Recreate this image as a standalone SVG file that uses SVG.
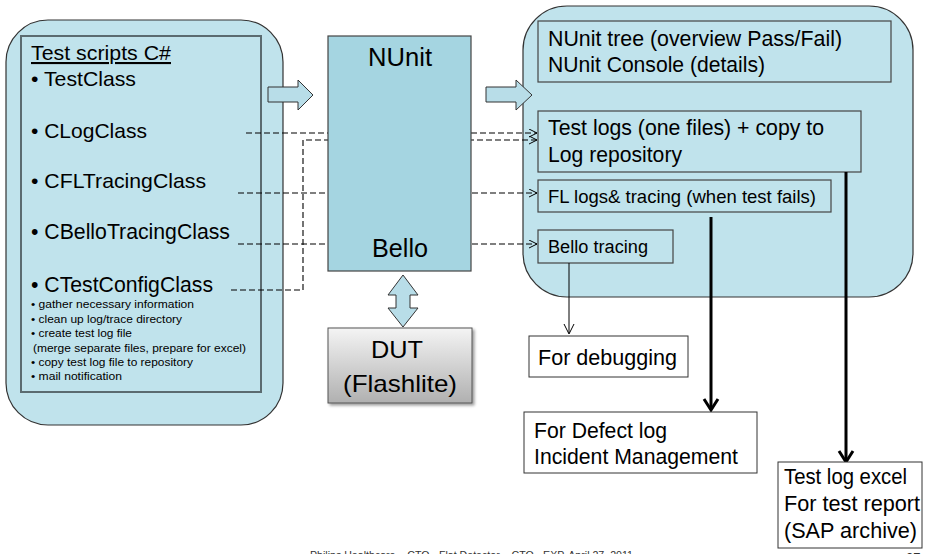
<svg xmlns="http://www.w3.org/2000/svg" width="929" height="554" viewBox="0 0 929 554">
<style>
text{font-family:"Liberation Sans",Arial,sans-serif;fill:#000}
.panel{fill:#c0e3ec;stroke:#333;stroke-width:1.2}
.inner{fill:none;stroke:#5b6b70;stroke-width:2}
.box{fill:#c0e3ec;stroke:#444;stroke-width:1.2}
.wbox{fill:#fff;stroke:#333;stroke-width:1}
.barrow{fill:#b8dde8;stroke:#333;stroke-width:1}
.dash{fill:none;stroke:#000;stroke-width:1.1;stroke-dasharray:6,3}
.thin{fill:none;stroke:#000;stroke-width:1}
.thick{fill:none;stroke:#000;stroke-width:3}
.big{font-size:21px}
.sm{font-size:11.5px}
.r21{font-size:22px}
</style>
<defs>
<marker id="oa" markerUnits="userSpaceOnUse" markerWidth="10" markerHeight="10" refX="8" refY="4" orient="auto">
<path d="M0,0 L8,4 L0,8" fill="none" stroke="#000" stroke-width="1"/>
</marker>
<linearGradient id="dutg" x1="0" y1="0" x2="0" y2="1">
<stop offset="0" stop-color="#f4f4f4"/>
<stop offset="1" stop-color="#b0b0b0"/>
</linearGradient>
<filter id="sh" x="-10%" y="-10%" width="130%" height="130%">
<feGaussianBlur in="SourceAlpha" stdDeviation="1.5"/>
<feOffset dx="2" dy="2" result="o"/>
<feComponentTransfer><feFuncA type="linear" slope="0.4"/></feComponentTransfer>
<feMerge><feMergeNode/><feMergeNode in="SourceGraphic"/></feMerge>
</filter>
</defs>

<g id="test-scripts">
<rect class="panel" x="6" y="20" width="277" height="405" rx="42" ry="42"/>
<rect class="inner" x="21" y="36" width="240" height="356"/>
<text class="big" x="31" y="60" textLength="140" lengthAdjust="spacingAndGlyphs" text-decoration="underline">Test scripts C#</text>
<text class="big" x="31" y="86" textLength="105" lengthAdjust="spacingAndGlyphs">• TestClass</text>
<text class="big" x="31" y="138" textLength="116" lengthAdjust="spacingAndGlyphs">• CLogClass</text>
<text class="big" x="31" y="188" textLength="175" lengthAdjust="spacingAndGlyphs">• CFLTracingClass</text>
<text class="big" x="31" y="239" textLength="199" lengthAdjust="spacingAndGlyphs" style="font-size:22px">• CBelloTracingClass</text>
<text class="big" x="31" y="292" textLength="182" lengthAdjust="spacingAndGlyphs" style="font-size:22px">• CTestConfigClass</text>
<text class="sm" x="31" y="308" textLength="163" lengthAdjust="spacingAndGlyphs">• gather necessary information</text>
<text class="sm" x="31" y="323" textLength="151" lengthAdjust="spacingAndGlyphs">• clean up log/trace directory</text>
<text class="sm" x="31" y="337" textLength="101" lengthAdjust="spacingAndGlyphs">• create test log file</text>
<text class="sm" x="33" y="352" textLength="213" lengthAdjust="spacingAndGlyphs">(merge separate files, prepare for excel)</text>
<text class="sm" x="31" y="366" textLength="162" lengthAdjust="spacingAndGlyphs">• copy test log file to repository</text>
<text class="sm" x="31" y="380" textLength="91" lengthAdjust="spacingAndGlyphs">• mail notification</text>
</g>

<g id="results-panel">
<rect class="panel" x="523" y="6" width="390" height="291" rx="44" ry="44"/>
</g>

<g id="nunit-tree">
<rect class="box" x="538" y="21" width="353" height="61"/>
<text class="r21" x="548" y="46" textLength="294" lengthAdjust="spacingAndGlyphs">NUnit tree (overview Pass/Fail)</text>
<text class="r21" x="548" y="72" textLength="217" lengthAdjust="spacingAndGlyphs">NUnit Console (details)</text>
</g>

<g id="test-logs">
<rect class="box" x="538" y="111" width="323" height="61"/>
<text class="r21" x="548" y="135" textLength="276" lengthAdjust="spacingAndGlyphs">Test logs (one files) + copy to</text>
<text class="r21" x="548" y="162" textLength="134" lengthAdjust="spacingAndGlyphs">Log repository</text>
</g>

<g id="fl-logs">
<rect class="box" x="538" y="180" width="293" height="32"/>
<text x="548" y="203" style="font-size:19px" textLength="268" lengthAdjust="spacingAndGlyphs">FL logs&amp; tracing (when test fails)</text>
</g>

<g id="bello-tracing">
<rect class="box" x="538" y="230" width="135" height="33"/>
<text x="548" y="253" style="font-size:18px" textLength="100" lengthAdjust="spacingAndGlyphs">Bello tracing</text>
</g>

<g id="connectors">
<path class="dash" d="M246,133 H537" marker-end="url(#oa)"/>
<path class="dash" d="M231,290 H303 V140 H537" marker-end="url(#oa)"/>
<path class="dash" d="M238,193 H537" marker-end="url(#oa)"/>
<path class="dash" d="M238,244 H537" marker-end="url(#oa)"/>
<path class="thin" d="M569,263 V333"/>
<path class="thin" d="M564,324 L569,334 L574,324"/>
<path class="thick" d="M711,217 V408"/>
<path class="thick" d="M704,399 L711,410 L718,399"/>
<path class="thick" d="M846,172 V460"/>
<path class="thick" d="M839,451 L846,462 L853,451"/>
<polygon class="barrow" points="268,87 298,87 298,80 313,95 298,110 298,102 268,102"/>
<polygon class="barrow" points="486,87 516,87 516,80 532,95 516,110 516,102 486,102"/>
<polygon class="barrow" points="403,275 418,295 410,295 410,308 418,308 403,327 388,308 396,308 396,295 388,295"/>
</g>

<g id="nunit">
<rect x="328" y="36" width="143" height="235" fill="#a5d5e1" stroke="#444" stroke-width="1.2"/>
<text x="400" y="66" text-anchor="middle" style="font-size:25px" textLength="64" lengthAdjust="spacingAndGlyphs">NUnit</text>
<text x="400" y="257" text-anchor="middle" style="font-size:25px" textLength="56" lengthAdjust="spacingAndGlyphs">Bello</text>
</g>

<g id="dut">
<rect x="328" y="328" width="144" height="75" fill="url(#dutg)" stroke="#555" stroke-width="1" filter="url(#sh)"/>
<text x="397" y="358" text-anchor="middle" style="font-size:24px" textLength="52" lengthAdjust="spacingAndGlyphs">DUT</text>
<text x="400" y="392" text-anchor="middle" style="font-size:24px" textLength="114" lengthAdjust="spacingAndGlyphs">(Flashlite)</text>
</g>

<g id="for-debugging">
<rect class="wbox" x="529" y="336" width="159" height="41"/>
<text class="r21" x="538" y="365" textLength="139" lengthAdjust="spacingAndGlyphs">For debugging</text>
</g>

<g id="defect-log">
<rect class="wbox" x="524" y="412" width="233" height="61"/>
<text class="r21" x="534" y="438" textLength="133" lengthAdjust="spacingAndGlyphs">For Defect log</text>
<text class="r21" x="534" y="464" textLength="204" lengthAdjust="spacingAndGlyphs">Incident Management</text>
</g>

<g id="test-log-excel">
<rect class="wbox" x="778" y="462" width="144" height="86"/>
<text class="r21" x="784" y="484" textLength="123" lengthAdjust="spacingAndGlyphs">Test log excel</text>
<text class="r21" x="784" y="511" textLength="136" lengthAdjust="spacingAndGlyphs">For test report</text>
<text class="r21" x="784" y="538" textLength="133" lengthAdjust="spacingAndGlyphs">(SAP archive)</text>
</g>

<g id="footer">
<text x="310" y="559" style="font-size:10px;fill:#333" textLength="323" lengthAdjust="spacingAndGlyphs">Philips Healthcare – CTO - Flat Detector – CTO - EXP, April 27, 2011</text>
<text x="906" y="562" style="font-size:13px;fill:#333">27</text>
</g>
</svg>
